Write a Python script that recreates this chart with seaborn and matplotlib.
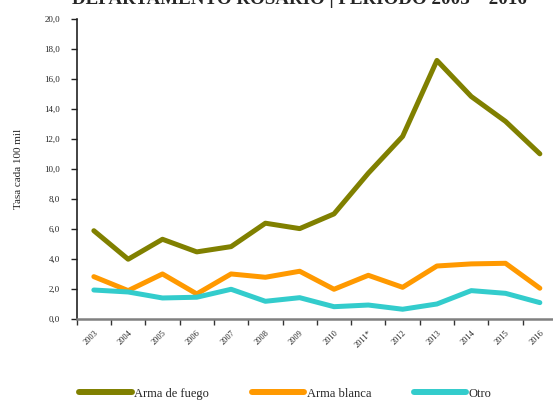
import matplotlib
matplotlib.use("Agg")
import matplotlib.pyplot as plt
from matplotlib.ticker import FixedLocator, FuncFormatter
import seaborn as sns
import pandas as pd
import numpy as np

anios = ["2003", "2004", "2005", "2006", "2007", "2008", "2009", "2010",
         "2011*", "2012", "2013", "2014", "2015", "2016"]
arma_fuego = [5.9, 4.0, 5.33, 4.49, 4.84, 6.4, 6.04, 7.02, 9.73, 12.18, 17.24, 14.84, 13.18, 11.02]
arma_blanca = [2.84, 1.91, 3.02, 1.69, 3.02, 2.8, 3.2, 2.0, 2.93, 2.13, 3.55, 3.69, 3.73, 2.07]
otro = [1.95, 1.82, 1.42, 1.47, 2.0, 1.2, 1.44, 0.84, 0.95, 0.67, 1.02, 1.91, 1.73, 1.11]
series = ["Arma de fuego", "Arma blanca", "Otro"]
colores = ["#808000", "#FF9900", "#33CCCC"]

df = pd.DataFrame({
    "idx": list(range(len(anios))) * 3,
    "valor": arma_fuego + arma_blanca + otro,
    "serie": [s for s in series for _ in anios],
})

sns.set_style("white")
plt.rcParams["font.family"] = ["Liberation Serif", "DejaVu Serif"]

fig = plt.figure(figsize=(5.53, 4.0), dpi=100)
ax = fig.add_axes([76.7 / 553, 1 - 319.3 / 400, (557 - 76.7) / 553, 300.3 / 400])

sns.lineplot(data=df, x="idx", y="valor", hue="serie", palette=colores,
             linewidth=3.6, ax=ax, legend=True,
             solid_capstyle="round", solid_joinstyle="round")

ax.set_xlim(-0.5, len(anios) - 0.5)
ax.set_ylim(0, 20)
ax.set_xlabel("")
ax.set_ylabel("Tasa cada 100 mil", fontsize=8, labelpad=15)

# x: tick marks at the category boundaries, labels at the centers
ax.xaxis.set_major_locator(FixedLocator(np.arange(-0.5, len(anios), 1.0)))
ax.xaxis.set_major_formatter(FuncFormatter(lambda v, p: ""))
ax.set_xticks(np.arange(len(anios)), anios, minor=True)
ax.tick_params(axis="x", which="major", direction="out", length=4, width=1, color="#333333", bottom=True)
ax.tick_params(axis="x", which="minor", length=0, labelsize=6, pad=7)
for lbl in ax.get_xticklabels(minor=True):
    lbl.set_rotation(45)
    lbl.set_ha("right")
    lbl.set_va("top")
    lbl.set_rotation_mode("anchor")

ax.set_yticks(np.arange(0, 21, 2))
ax.yaxis.set_major_formatter(FuncFormatter(lambda v, p: f"{v:.1f}".replace(".", ",")))
ax.tick_params(axis="y", direction="out", length=4, width=1, color="#222222",
               labelsize=6.5, pad=8, left=True)

for s in ["top", "right"]:
    ax.spines[s].set_visible(False)
ax.spines["left"].set_color("#222222")
ax.spines["left"].set_linewidth(1.2)
ax.spines["bottom"].set_color("#808080")
ax.spines["bottom"].set_linewidth(1.8)

handles, labels = ax.get_legend_handles_labels()
ax.get_legend().remove()
for h in handles:
    h.set_linewidth(4.3)
    h.set_solid_capstyle("round")
fig.legend(handles, labels, ncol=3, frameon=False, fontsize=9,
           loc="lower left", bbox_to_anchor=(68 / 553, -0.027),
           handlelength=4.2, handletextpad=0.2, columnspacing=3.4)

fig.text(0.541, 1 - 4 / 400, "DEPARTAMENTO ROSARIO | PERÍODO 2003 \u2013 2016",
         ha="center", va="baseline", fontsize=13.7, fontweight="bold")

fig.savefig("out.png", dpi=100)
